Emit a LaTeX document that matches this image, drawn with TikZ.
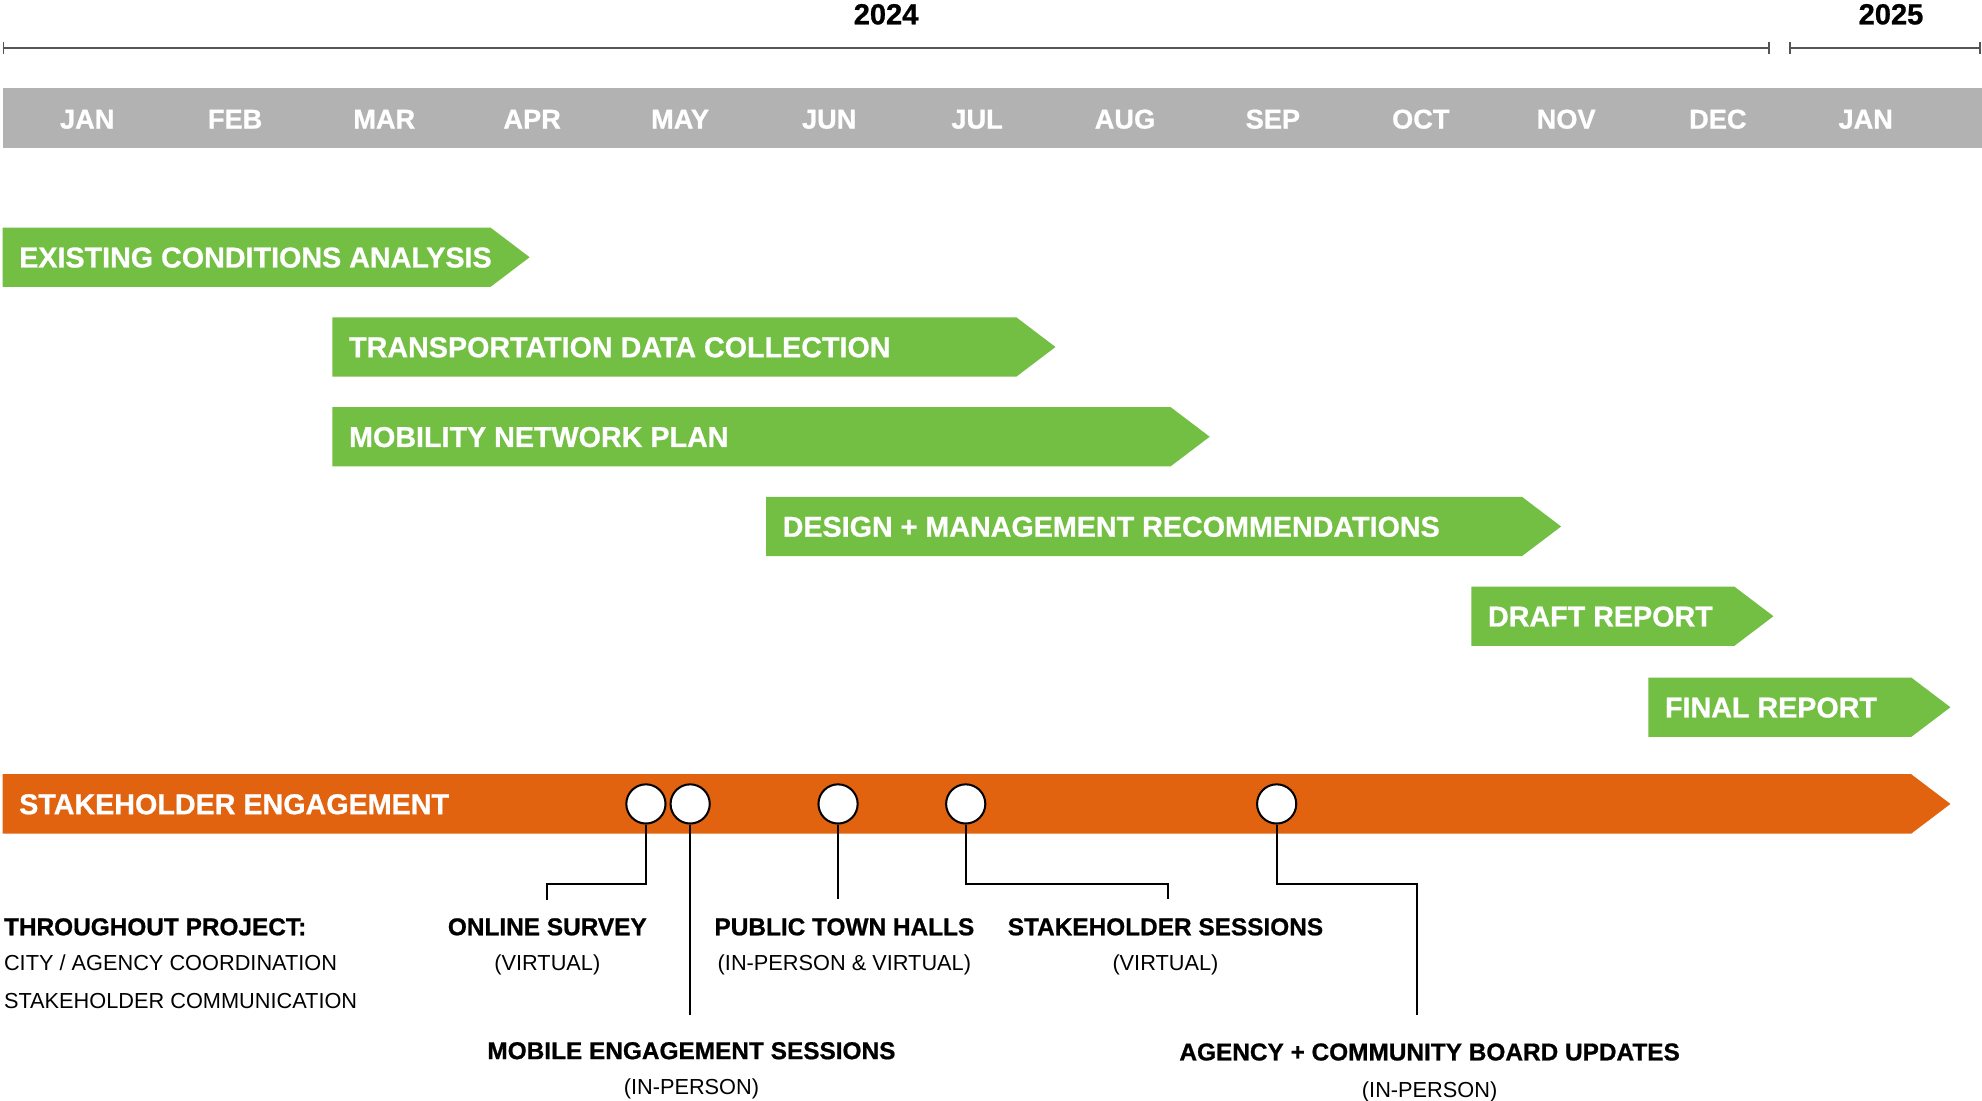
\documentclass[tikz,border=0pt]{standalone}
\usepackage{fontspec}
\setmainfont{Liberation Sans}[BoldFeatures={FakeBold=0.8}]
\usetikzlibrary{arrows.meta}
\definecolor{gbarc}{HTML}{72BF44}
\definecolor{obarc}{HTML}{E1620F}
\definecolor{bandc}{HTML}{B2B2B2}
\definecolor{yrc}{HTML}{555555}
\newcommand{\mybar}[6]{%
  \fill[#6] (#1,#3) -- (#2,#3) -- (#2+31,#3+23.5) -- (#2,#3+47) -- (#1,#3+47) -- cycle;
  \node[bartext] (#4) at (#1+13,#3+23.5) {#5};}
\begin{document}
\begin{tikzpicture}[x=1pt,y=-1pt,
  month/.style={text=white,font=\bfseries\fontsize{21.5}{25}\selectfont,text height=15.4pt,text depth=0pt,inner sep=0pt},
  bartext/.style={anchor=west,text=white,font=\bfseries\fontsize{22.7}{26}\selectfont,text height=16.2pt,text depth=0pt,inner sep=0pt},
  yeartext/.style={text=black,font=\bfseries\fontsize{23}{27}\selectfont,text height=16.5pt,text depth=0pt,inner sep=0pt},
  lbl/.style={text=black,font=\bfseries\fontsize{19.3}{23}\selectfont,text height=13.8pt,text depth=0pt,inner sep=0pt},
  sub/.style={text=black,font=\fontsize{17.2}{21}\selectfont,text height=12.3pt,text depth=0pt,inner sep=0pt},
  yrline/.style={draw=yrc,line width=1.5pt,{Bar[width=9pt,line width=1.5pt]}-{Bar[width=9pt,line width=1.5pt]}},
  conn/.style={draw=black,line width=1.6pt},
  mile/.style={circle,draw=black,fill=white,line width=1.6pt,minimum size=31pt,inner sep=0pt}]
\useasboundingbox (0,0) rectangle (1568,871);
% year lines
\coordinate (ya) at (2,38);
\coordinate (yb) at (1400,38);
\coordinate (yc) at (1415,38);
\coordinate (yd) at (1567,38);
\draw[yrline] (ya) -- (yb);
\draw[yrline] (yc) -- (yd);
\node[yeartext] (y2024) at (701,11) {2024};
\node[yeartext] (y2025) at (1496,11) {2025};
% month band
\fill[bandc] (2,70) rectangle (1568,117);
\foreach \m/\x [count=\i] in {JAN/69,FEB/186,MAR/304,APR/421,MAY/538,JUN/656,JUL/773,AUG/890,SEP/1007,OCT/1124,NOV/1239,DEC/1359,JAN/1476}
  \node[month] (m\i) at (\x,94) {\m};
% task bars
\mybar{2}{388}{180}{t1}{EXISTING CONDITIONS ANALYSIS}{gbarc}
\mybar{263}{804}{251}{t2}{TRANSPORTATION DATA COLLECTION}{gbarc}
\mybar{263}{926}{322}{t3}{MOBILITY NETWORK PLAN}{gbarc}
\mybar{606}{1204}{393}{t4}{DESIGN + MANAGEMENT RECOMMENDATIONS}{gbarc}
\mybar{1164}{1372}{464}{t5}{DRAFT REPORT}{gbarc}
\mybar{1304}{1512}{536}{t6}{FINAL REPORT}{gbarc}
\mybar{2}{1512}{612.5}{se}{STAKEHOLDER ENGAGEMENT}{obarc}
% milestones
\node[mile] (c1) at (511,636) {};
\node[mile] (c2) at (546,636) {};
\node[mile] (c3) at (663,636) {};
\node[mile] (c4) at (764,636) {};
\node[mile] (c5) at (1010,636) {};
% labels
\node[lbl,anchor=west] (tp) at (3,733) {THROUGHOUT PROJECT:};
\node[sub,anchor=west] (tp1) at (3,762) {CITY / AGENCY COORDINATION};
\node[sub,anchor=west] (tp2) at (3,792) {STAKEHOLDER COMMUNICATION};
\node[lbl] (os) at (433,733) {ONLINE SURVEY};
\node[sub] (os1) at (433,762) {(VIRTUAL)};
\node[lbl] (pth) at (668,733) {PUBLIC TOWN HALLS};
\node[sub] (pth1) at (668,762) {(IN-PERSON \& VIRTUAL)};
\node[lbl] (ss) at (922,733) {STAKEHOLDER SESSIONS};
\node[sub] (ss1) at (922,762) {(VIRTUAL)};
\node[lbl] (mes) at (547,831) {MOBILE ENGAGEMENT SESSIONS};
\node[sub] (mes1) at (547,860) {(IN-PERSON)};
\node[lbl] (acb) at (1131,832) {AGENCY + COMMUNITY BOARD UPDATES};
\node[sub] (acb1) at (1131,862) {(IN-PERSON)};
% connector ends
\coordinate (k1) at (433,699);
\coordinate (e1) at (433,712);
\coordinate (e2) at (546,803);
\coordinate (e3) at (663,711);
\coordinate (k4) at (924,699);
\coordinate (e4) at (924,711);
\coordinate (k5) at (1121,699);
\coordinate (e5) at (1121,803);
\draw[conn] (c1.south) |- (k1) -- (e1);
\draw[conn] (c2.south) -- (e2);
\draw[conn] (c3.south) -- (e3);
\draw[conn] (c4.south) |- (k4) -- (e4);
\draw[conn] (c5.south) |- (k5) -- (e5);
\end{tikzpicture}
\end{document}
